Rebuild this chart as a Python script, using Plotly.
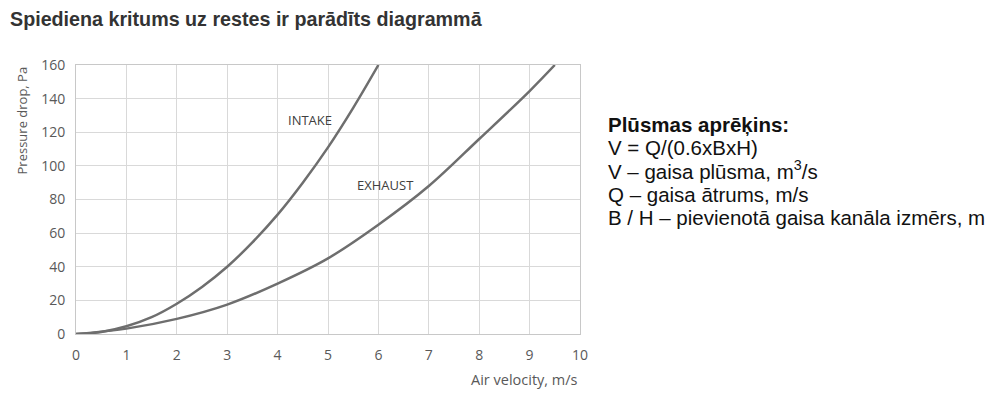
import plotly.graph_objects as go

# Data
intake_x = [0, 0.5, 1, 1.5, 2, 2.5, 3, 3.5, 4, 4.5, 5, 5.5, 6]
intake_y = [0, 1.2, 4.6, 10, 18, 28, 40, 54.5, 71, 90, 111, 134.5, 160]
exhaust_x = [0, 1, 2, 3, 4, 5, 6, 7, 8, 9, 9.5]
exhaust_y = [0, 3.2, 9, 17.5, 30, 45, 65, 88, 116, 144.5, 160]
x_ticks = [0, 1, 2, 3, 4, 5, 6, 7, 8, 9, 10]
y_ticks = [0, 20, 40, 60, 80, 100, 120, 140, 160]

title_text = "Spiediena kritums uz restes ir parādīts diagrammā"
info_lines = [
    "<b>Plūsmas aprēķins:</b>",
    "V = Q/(0.6xBxH)",
    "V – gaisa plūsma, m<sup>3</sup>/s",
    "Q – gaisa ātrums, m/s",
    "B / H – pievienotā gaisa kanāla izmērs, m",
]

line_color = "#6e6e6e"
tick_color = "#595959"
grid_color = "#d9d9d9"

# geometry of the plot area (figure pixels)
PLOT_TOP = 57
PLOT_H = 269
PLOT_L = 68
PLOT_W = 504


def py(pix):
    return (PLOT_TOP + PLOT_H - pix) / PLOT_H


def px(pix):
    return (pix - PLOT_L) / PLOT_W


fig = go.Figure()
fig.add_trace(go.Scatter(x=intake_x, y=intake_y, mode="lines", name="INTAKE",
                         line=dict(color=line_color, width=2.5, shape="spline", smoothing=1.0)))
fig.add_trace(go.Scatter(x=exhaust_x, y=exhaust_y, mode="lines", name="EXHAUST",
                         line=dict(color=line_color, width=2.5, shape="spline", smoothing=1.0)))

ann_font = dict(family="Open Sans, Lato, sans-serif", size=13, color="#404040")
fig.add_annotation(x=4.64, y=127, text="INTAKE", showarrow=False, font=ann_font)
fig.add_annotation(x=6.15, y=88.5, text="EXHAUST", showarrow=False, font=ann_font)

# Axis titles
fig.add_annotation(xref="paper", yref="y", x=px(14), y=127, text="Pressure drop, Pa",
                   textangle=-90, showarrow=False, xanchor="center", yanchor="middle",
                   font=dict(family="Open Sans, Lato, sans-serif", size=13, color=tick_color))
fig.add_annotation(xref="paper", yref="paper", x=1.0, y=py(371), xanchor="right", yanchor="middle",
                   text="Air velocity, m/s", showarrow=False,
                   font=dict(family="Open Sans, Lato, sans-serif", size=14.5, color=tick_color))

# Title (kept fully inside the figure)
fig.add_annotation(xref="paper", yref="paper", x=px(0), y=py(11), xanchor="left", yanchor="middle",
                   text="<b>" + title_text + "</b>", showarrow=False,
                   font=dict(family="Liberation Sans, Arial, sans-serif", size=19.7, color="#333333"))

# Info text block, one annotation per line
line_centers = [116, 139, 162, 186, 210]
for txt, yc in zip(info_lines, line_centers):
    fig.add_annotation(xref="paper", yref="paper", x=px(598), y=py(yc), xanchor="left",
                       yanchor="middle", align="left", text=txt, showarrow=False,
                       font=dict(family="Liberation Sans, Arial, sans-serif", size=20.5,
                                 color="#111111"))

fig.update_xaxes(range=[0, 10], tickvals=x_ticks, showgrid=True, gridcolor=grid_color, gridwidth=1,
                 zeroline=False, showline=True, linecolor="#c8c8c8", linewidth=1, mirror=True,
                 ticks="outside", ticklen=8, tickcolor="rgba(0,0,0,0)",
                 tickfont=dict(family="Open Sans, Lato, sans-serif", size=14, color=tick_color))
fig.update_yaxes(range=[0, 160], tickvals=y_ticks, showgrid=True, gridcolor=grid_color, gridwidth=1,
                 zeroline=False, showline=True, linecolor="#c8c8c8", linewidth=1, mirror=True,
                 ticks="outside", ticklen=7, tickcolor="rgba(0,0,0,0)",
                 tickfont=dict(family="Open Sans, Lato, sans-serif", size=14, color=tick_color))

# The page has an 8px body margin, so the figure is offset by 8px
fig.update_layout(width=992, height=388, showlegend=False,
                  margin=dict(l=PLOT_L, r=992 - PLOT_L - PLOT_W, t=PLOT_TOP, b=388 - PLOT_TOP - PLOT_H),
                  paper_bgcolor="white", plot_bgcolor="white")

fig.write_html("out.html")
